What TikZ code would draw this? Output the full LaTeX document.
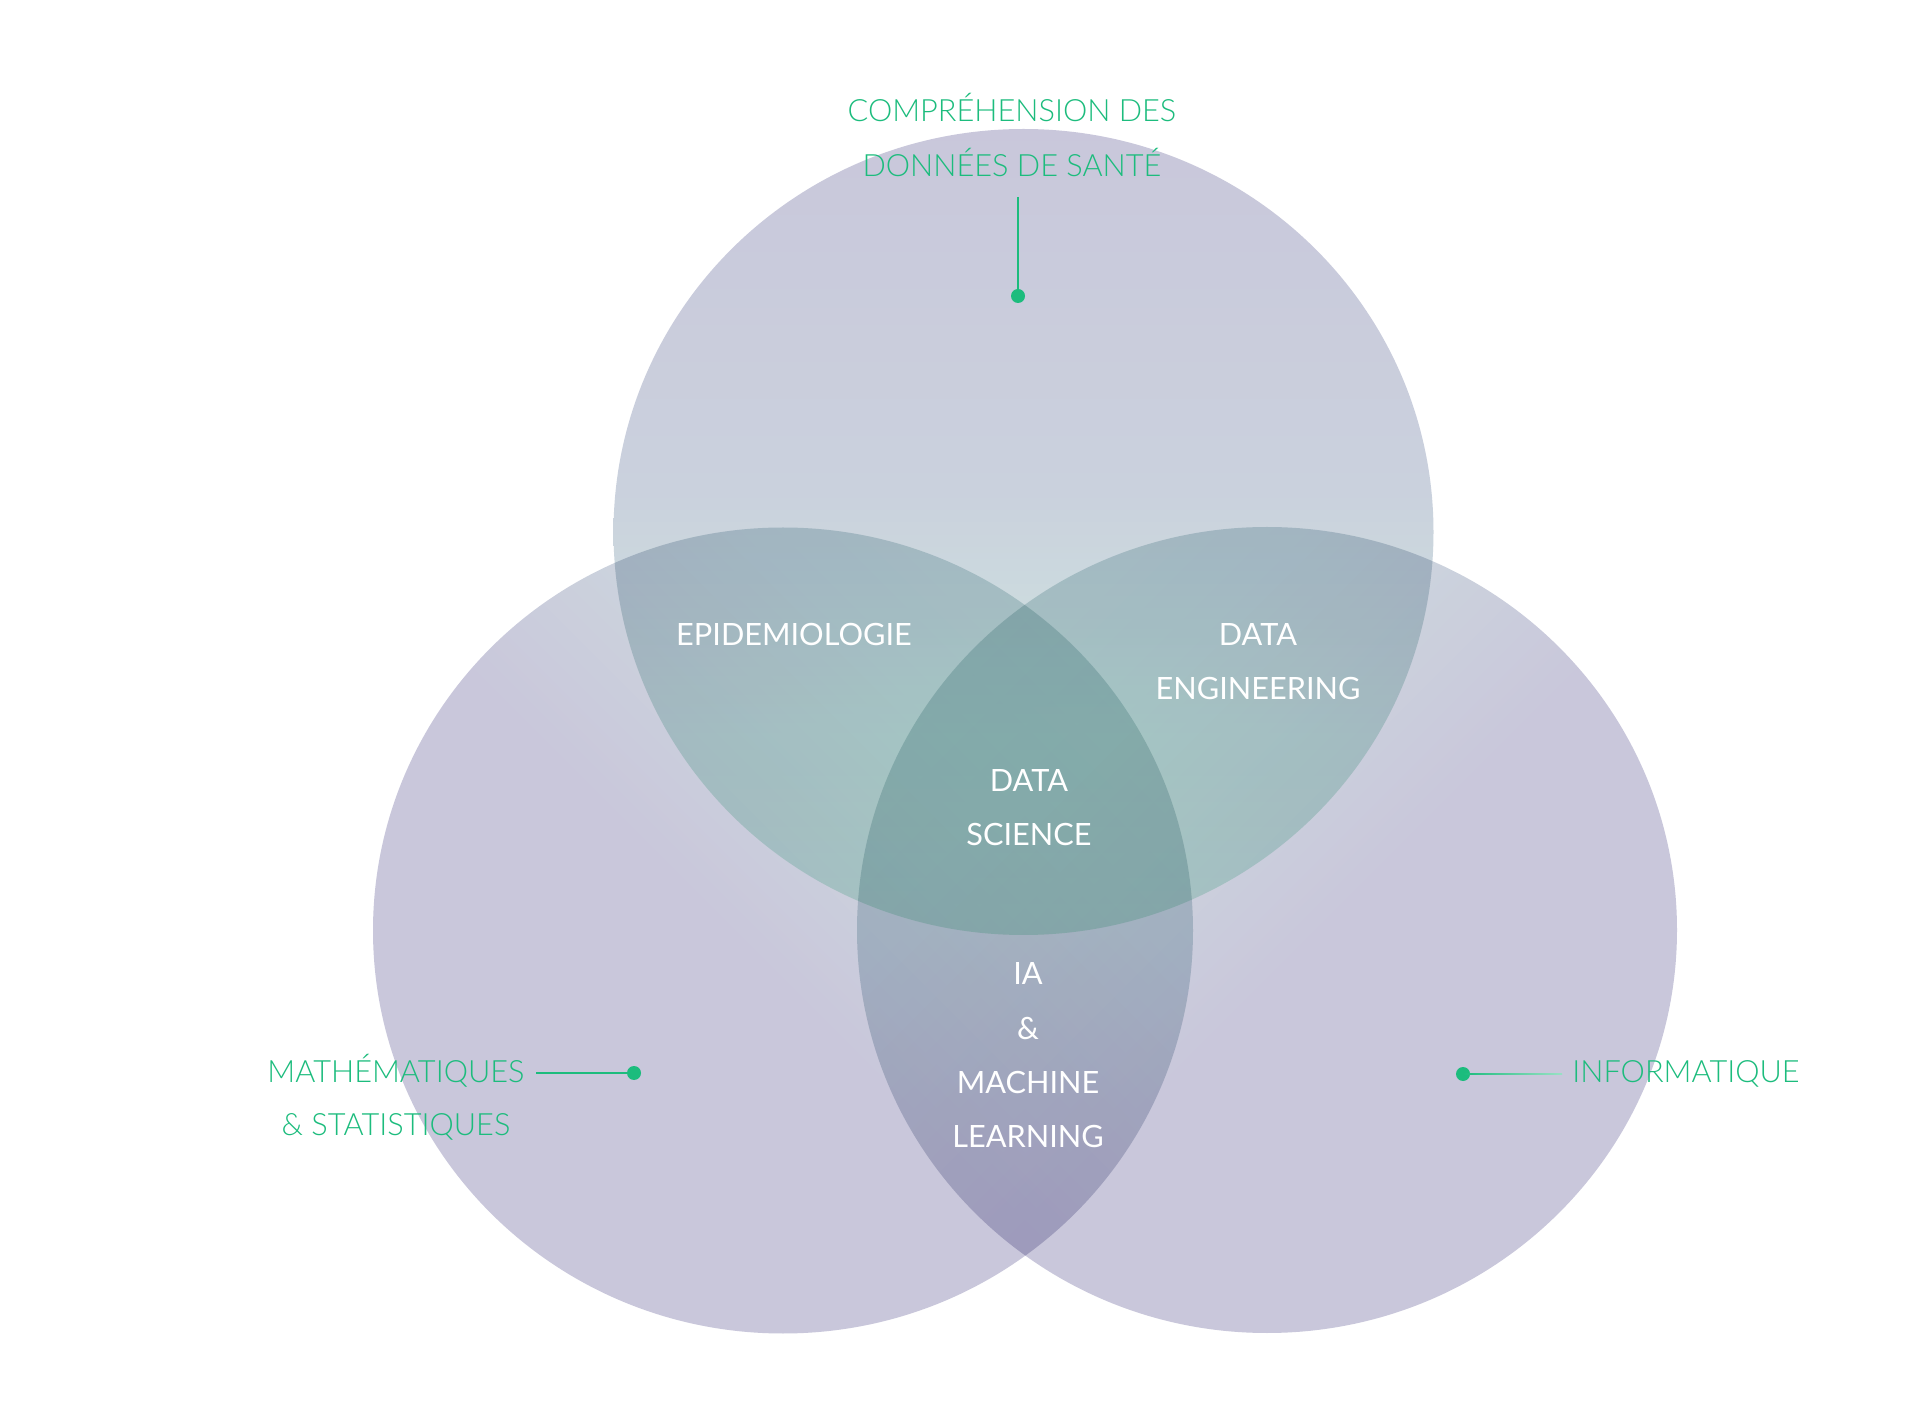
\documentclass[tikz,border=0pt]{standalone}
\usepackage{fontspec}
\setmainfont{Lato}
\newfontfamily\latolight{Lato}[UprightFont=* Light]
\definecolor{vennL}{RGB}{201,199,219}
\definecolor{vennTa}{RGB}{202,209,221}
\definecolor{vennTb}{RGB}{204,219,222}
\definecolor{vennTc}{RGB}{206,232,224}
\definecolor{vennTd}{RGB}{208,240,225}
\definecolor{vennSa}{RGB}{204,212,221}
\definecolor{vennSb}{RGB}{204,218,223}
\definecolor{vennSc}{RGB}{205,222,223}
\definecolor{accent}{RGB}{28,188,125}
\pgfdeclareverticalshading{topshade}{100bp}{color(0bp)=(vennTd); color(25bp)=(vennTd); color(37.5bp)=(vennTc); color(45bp)=(vennTb); color(52.5bp)=(vennTa); color(75bp)=(vennL); color(100bp)=(vennL)}
\pgfdeclareverticalshading{sideshade}{100bp}{color(0bp)=(vennL); color(47.5bp)=(vennL); color(60bp)=(vennSa); color(66bp)=(vennSb); color(75bp)=(vennSc); color(100bp)=(vennSc)}
\tikzset{
  lbl/.style={anchor=base, inner sep=0pt, font=\fontsize{15.35pt}{18pt}\selectfont},
  greenlbl/.style={lbl, text=accent, font=\latolight\fontsize{15.35pt}{18pt}\selectfont},
  whitelbl/.style={lbl, text=white},
  leaderdot/.style={circle, fill=accent, inner sep=0pt, minimum size=7pt},
  leader/.style={draw=accent, line width=0.7pt},
}
\begin{document}
\begin{tikzpicture}[x=0.5pt,y=-0.5pt]
\useasboundingbox (0,0) rectangle (1919,1427);
\fill[white] (0,0) rectangle (1919,1427);
% three circles, multiplied
\begin{scope}[blend mode=multiply]
  \clip (1023.5,532) ellipse [x radius=410, y radius=403];
  \shade[shading=topshade] (1023.5,532) circle [radius=410];
\end{scope}
\begin{scope}[blend mode=multiply]
  \clip (783,930.5) ellipse [x radius=410, y radius=403];
  \shade[shading=sideshade, shading angle=-45] (783,930.5) circle [radius=410];
\end{scope}
\begin{scope}[blend mode=multiply]
  \clip (1267,930) ellipse [x radius=410, y radius=403];
  \shade[shading=sideshade, shading angle=45] (1267,930) circle [radius=410];
\end{scope}
% top label
\node[greenlbl] (t1) at (1012,122) {COMPRÉHENSION DES};
\node[greenlbl] (t2) at (1012,177) {DONNÉES DE SANTÉ};
\coordinate (t2lead) at (1018,197);
\node[leaderdot] (d1) at (1018,296) {};
\draw[leader] (t2lead) -- (d1);
% left label
\node[greenlbl] (m1) at (396,1082) {MATHÉMATIQUES};
\node[greenlbl] (m2) at (396,1135) {\& STATISTIQUES};
\coordinate (m1lead) at (536,1073);
\node[leaderdot] (d2) at (634,1073) {};
\draw[leader] (m1lead) -- (d2);
% right label
\node[greenlbl] (i1) at (1686,1082) {INFORMATIQUE};
\coordinate (i1lead) at (1562,1074);
\node[leaderdot] (d3) at (1463,1074) {};
\shade[left color=accent, right color=accent!45!white] ([yshift=-0.35pt]d3.center) rectangle ([yshift=0.35pt]i1lead);
% intersections
\node[whitelbl] (epi) at (794,646) {EPIDEMIOLOGIE};
\node[whitelbl] (de1) at (1258,646) {DATA};
\node[whitelbl] (de2) at (1258,700) {ENGINEERING};
\node[whitelbl] (ds1) at (1029,792) {DATA};
\node[whitelbl] (ds2) at (1029,846) {SCIENCE};
\node[whitelbl] (ml1) at (1028,985) {IA};
\node[whitelbl] (ml2) at (1028,1039) {\&};
\node[whitelbl] (ml3) at (1028,1093) {MACHINE};
\node[whitelbl] (ml4) at (1028,1147) {LEARNING};
\end{tikzpicture}
\end{document}
